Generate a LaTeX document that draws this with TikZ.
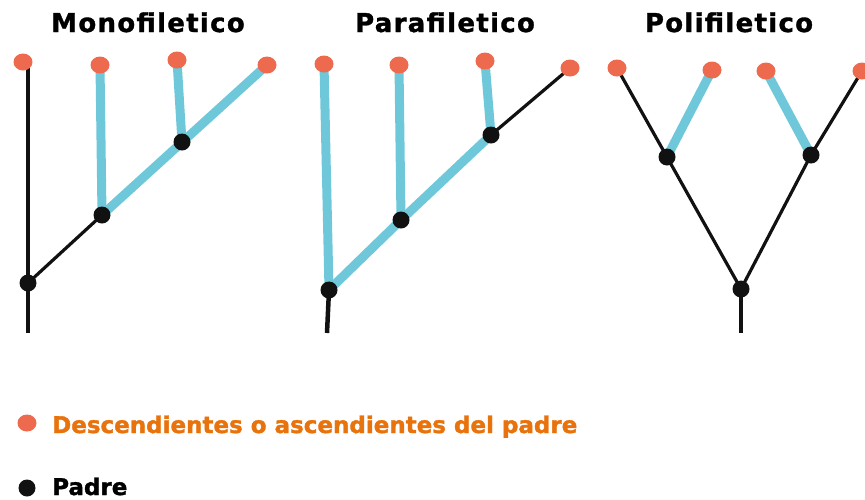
\documentclass[tikz,border=0pt]{standalone}
\usepackage{fontspec}
\setmainfont{DejaVu Sans}
\definecolor{leafc}{HTML}{EE6A4F}
\definecolor{cyanc}{HTML}{6EC8DA}
\definecolor{legc}{HTML}{E8720C}
\definecolor{nodec}{HTML}{111111}
\usetikzlibrary{shapes.geometric}
\tikzset{
  leaf/.style={ellipse, fill=leafc, minimum width=19pt, minimum height=17pt, inner sep=0pt},
  par/.style={circle, fill=nodec, minimum size=17pt, inner sep=0pt},
  cy/.style={cyanc, line width=9pt},
  bl/.style={nodec, line width=3.2pt},
  ttl/.style={font=\fontsize{26}{26}\selectfont\bfseries\addfontfeature{LetterSpace=5,FakeBold=1.2}, anchor=base, inner sep=0pt},
  legt/.style={font=\fontsize{23}{23}\selectfont\bfseries\addfontfeature{FakeBold=1.5}, anchor=base west, inner sep=0pt}
}
\begin{document}
\begin{tikzpicture}[x=1pt,y=-1pt]
\useasboundingbox (0,0) rectangle (865,499);
% titles
\node[ttl] (t1) at (148,32) {Monofiletico};
\node[ttl] (t2) at (445,32) {Parafiletico};
\node[ttl] (t3) at (729,32) {Polifiletico};
% ---------- Monofiletico
\coordinate (m0) at (28,333);
\coordinate (ma) at (23,62);
\coordinate (mb) at (100,65);
\coordinate (mc) at (177,60);
\coordinate (md) at (267,65);
\coordinate (mr) at (28,283);
\coordinate (m1) at (102,215);
\coordinate (m2) at (182,142);
\draw[bl] (m0) -- (mr) -- (28,64);
\draw[bl] (mr) -- (m1);
\draw[cy] (mb) -- (m1);
\draw[cy] (m1) -- (md);
\draw[cy] (mc) -- (m2);
\node[leaf] (MA) at (ma) {};
\node[leaf] (MB) at (mb) {};
\node[leaf] (MC) at (mc) {};
\node[leaf] (MD) at (md) {};
\node[par] (MR) at (mr) {};
\node[par] (M1) at (m1) {};
\node[par] (M2) at (m2) {};
% ---------- Parafiletico
\coordinate (p0) at (327,333);
\coordinate (pa) at (324,64);
\coordinate (pb) at (399,65);
\coordinate (pc) at (485,61);
\coordinate (pd) at (570,68);
\coordinate (pr) at (329,290);
\coordinate (p1) at (401,220);
\coordinate (p2) at (491,135);
\draw[nodec, line width=4.5pt] (p0) -- (pr);
\draw[cy] (pa) -- (pr);
\draw[cy] (pb) -- (p1);
\draw[cy] (pc) -- (p2);
\draw[cy] (pr) -- (p1) -- (p2);
\draw[bl] (p2) -- (pd);
\node[leaf] (PA) at (pa) {};
\node[leaf] (PB) at (pb) {};
\node[leaf] (PC) at (pc) {};
\node[leaf] (PD) at (pd) {};
\node[par] (PR) at (pr) {};
\node[par] (P1) at (p1) {};
\node[par] (P2) at (p2) {};
% ---------- Polifiletico
\coordinate (q0) at (741,333);
\coordinate (qa) at (617,68);
\coordinate (qb) at (712,70);
\coordinate (qc) at (766,71);
\coordinate (qd) at (862,71);
\coordinate (qr) at (741,289);
\coordinate (q1) at (667,157);
\coordinate (q2) at (811,155);
\draw[bl] (qa) -- (q1) -- (qr) -- (q2) -- (qd);
\draw[bl] (qr) -- (q0);
\draw[cy] (qb) -- (q1);
\draw[cy] (qc) -- (q2);
\node[leaf] (QA) at (qa) {};
\node[leaf] (QB) at (qb) {};
\node[leaf] (QC) at (qc) {};
\node[leaf] (QD) at (qd) {};
\node[par] (QR) at (qr) {};
\node[par] (Q1) at (q1) {};
\node[par] (Q2) at (q2) {};
% ---------- legend
\node[leaf] (L1) at (27,423) {};
\node[legt, text=legc] (L1t) at (52,433) {Descendientes o ascendientes del padre};
\node[par] (L2) at (27,488) {};
\node[legt, text=black] (L2t) at (52,495) {Padre};
\end{tikzpicture}
\end{document}
